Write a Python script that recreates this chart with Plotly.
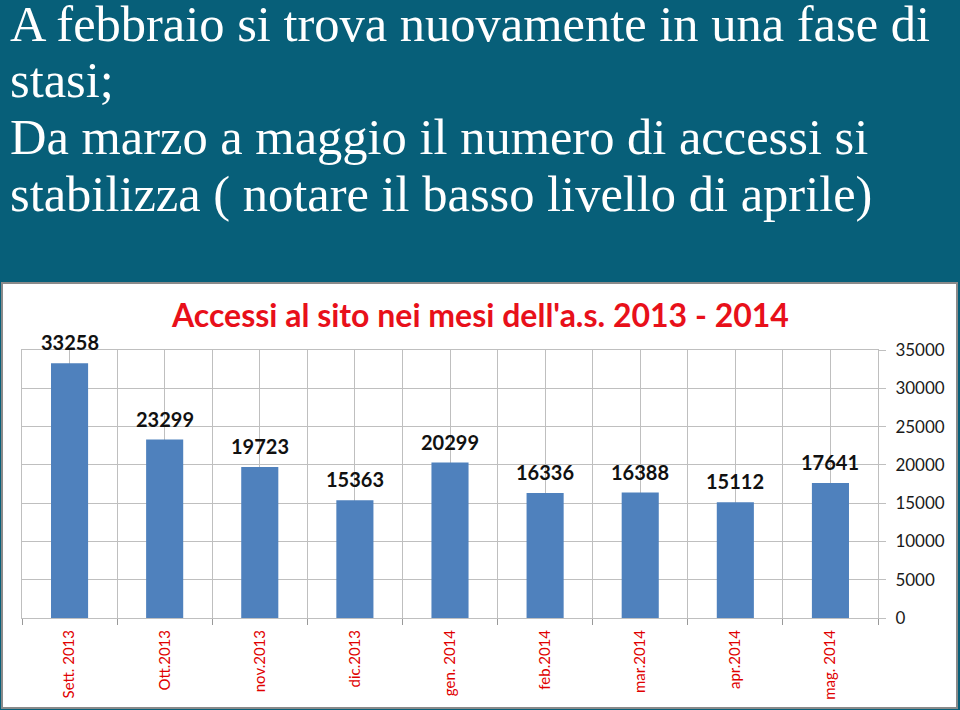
import plotly.graph_objects as go

months = ["Sett. 2013", "Ott.2013", "nov.2013", "dic.2013", "gen. 2014",
          "feb.2014", "mar.2014", "apr.2014", "mag. 2014"]
accessi = [33258, 23299, 19723, 15363, 20299, 16336, 16388, 15112, 17641]
heading_lines = [
    "A febbraio si trova nuovamente in una fase di",
    "stasi;",
    "Da marzo a maggio il numero di accessi si",
    "stabilizza ( notare il basso livello di aprile)",
]
chart_title = "Accessi al sito nei mesi dell'a.s. 2013 - 2014"
y_ticks = [0, 5000, 10000, 15000, 20000, 25000, 30000, 35000]

W, H = 960, 710
TEAL = "#075f79"
GRID = "#bfbfbf"

xpos = list(range(len(months)))

fig = go.Figure()
fig.add_trace(go.Bar(x=xpos, y=accessi, width=0.39, marker=dict(color="#4f81bd", line=dict(width=0)),
                     hoverinfo="y"))

def py(px):
    return (H - px) / H

annotations = []
baselines = [42, 98, 155, 212]
for line, b in zip(heading_lines, baselines):
    annotations.append(dict(text=line, x=8 / W, y=py(b), xref="paper", yref="paper",
                            xanchor="left", yanchor="middle", yshift=18, showarrow=False,
                            font=dict(family="Liberation Serif", size=50.5, color="white")))
annotations.append(dict(text="<b>" + chart_title + "</b>", x=0.5, y=py(314), xref="paper", yref="paper",
                        xanchor="center", yanchor="middle", showarrow=False,
                        font=dict(family="Lato", size=32, color="#e8101a")))
for xv, v in zip(xpos, accessi):
    annotations.append(dict(text="<b>%d</b>" % v, x=xv, y=v, xref="x", yref="y",
                            xanchor="center", yanchor="bottom", yshift=7, showarrow=False,
                            font=dict(family="Lato", size=20, color="#111111")))

fig.update_layout(
    width=W, height=H,
    margin=dict(l=0, r=0, t=0, b=0),
    paper_bgcolor=TEAL,
    plot_bgcolor="rgba(0,0,0,0)",
    showlegend=False,
    bargap=0.6,
    annotations=annotations,
    shapes=[dict(type="rect", xref="paper", yref="paper", x0=2 / W, x1=957 / W,
                 y0=py(708), y1=py(283), fillcolor="white",
                 line=dict(color="#8a8a8a", width=2), layer="below")],
    xaxis=dict(
        domain=[22 / W, 878 / W],
        range=[-0.5, len(months) - 0.5],
        automargin=False,
        tickmode="array", tickvals=xpos, ticktext=months,
        tickangle=-90, ticks="", showgrid=True, gridcolor=GRID, gridwidth=1,
        zeroline=False,
        showline=True, mirror=True, linecolor=GRID, linewidth=1,
        tickfont=dict(family="Lato", size=15, color="#e00000"),
        ticklabelstandoff=5,
        minor=dict(tick0=-0.5, dtick=1, ticks="outside", ticklen=6, tickcolor="#999999",
                   showgrid=True, gridcolor=GRID, gridwidth=1),
        fixedrange=True,
    ),
    yaxis=dict(
        domain=[py(618), py(350)],
        range=[0, 35000],
        automargin=False,
        side="right",
        tickmode="array", tickvals=y_ticks, ticktext=[str(t) for t in y_ticks],
        ticks="outside", ticklen=7, tickcolor=GRID,
        showgrid=True, gridcolor=GRID, gridwidth=1, zeroline=False,
        showline=True, mirror=True, linecolor=GRID, linewidth=1,
        tickfont=dict(family="Lato", size=17, color="#1a1a1a"),
        ticklabelstandoff=6,
        fixedrange=True,
    ),
)

fig.write_html("out.html")
